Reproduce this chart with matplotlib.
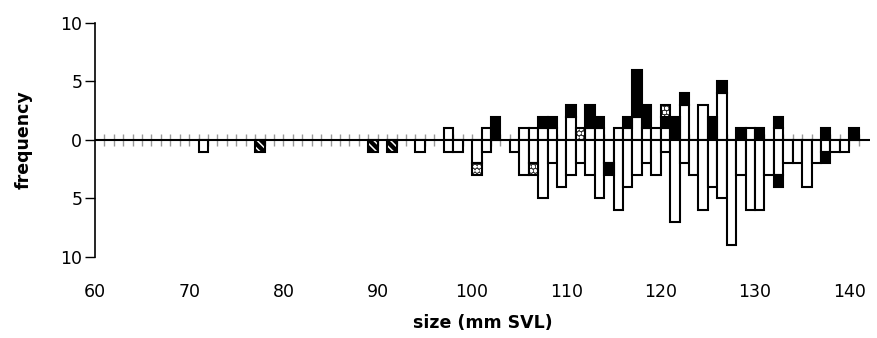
import numpy as np
import matplotlib
matplotlib.use('Agg')
import matplotlib.pyplot as plt

plt.rcParams['font.family'] = ['DejaVu Sans']
plt.rcParams['hatch.linewidth'] = 1.1

# size classes (mm SVL) and counts
up_white_size = [97, 101, 105, 106, 107, 108, 110, 112, 113, 115, 116, 117, 118, 119, 120, 122, 124, 126, 129, 132]
up_white_n = [1, 1, 1, 1, 1, 1, 2, 1, 1, 1, 1, 2, 1, 1, 1, 3, 3, 4, 1, 1]
up_black_size = [102, 107, 108, 110, 112, 113, 116, 117, 118, 120, 121, 122, 125, 126, 128, 130, 132, 137, 140]
up_black_n = [2, 1, 1, 1, 2, 1, 1, 4, 2, 1, 2, 1, 2, 1, 1, 1, 1, 1, 1]
up_dot_size = [111, 120]
up_dot_n = [1, 1]

down_white_size = [71, 94, 97, 98, 100, 101, 104, 105, 106, 107, 108, 109, 110, 111, 112, 113, 114, 115, 116, 117,
                   118, 119, 120, 121, 122, 123, 124, 125, 126, 127, 128, 129, 130, 131, 132, 133, 134, 135, 136,
                   137, 138, 139]
down_white_n = [1, 1, 1, 1, 2, 1, 1, 3, 2, 5, 2, 4, 3, 2, 3, 5, 2, 6, 4, 3,
                2, 3, 1, 7, 2, 3, 6, 4, 5, 9, 3, 6, 6, 3, 3, 2, 2, 4, 2,
                1, 1, 1]
down_black_size = [114, 132, 137]
down_black_n = [1, 1, 1]
down_dot_size = [100, 106]
down_dot_n = [1, 1]
down_hatch_size = [77, 89, 91]
down_hatch_n = [1, 1, 1]

sizes = np.arange(60, 142)


def full(sz, n):
    arr = np.zeros(len(sizes))
    for s, c in zip(sz, n):
        arr[s - 60] = c
    return arr


fig = plt.figure(figsize=(8.78, 3.38), dpi=100)
ax = fig.add_axes([0.108, 0.240, 0.883, 0.692])

lw = 1.5


def draw(heights, bottoms, face, hatch=None):
    m = heights != 0
    if hatch:
        # white hatch on a dark fill, then the black outline on top
        ax.bar(sizes[m], heights[m], bottom=bottoms[m], width=1, align='edge',
               color=face, edgecolor='white', linewidth=0, hatch=hatch, zorder=3)
        ax.bar(sizes[m], heights[m], bottom=bottoms[m], width=1, align='edge',
               fill=False, edgecolor='black', linewidth=lw, zorder=4)
    else:
        ax.bar(sizes[m], heights[m], bottom=bottoms[m], width=1, align='edge',
               color=face, edgecolor='black', linewidth=lw, zorder=3)


uw = full(up_white_size, up_white_n)
ub = full(up_black_size, up_black_n)
ud = full(up_dot_size, up_dot_n)
draw(uw, np.zeros(len(sizes)), 'white')
draw(ub, uw, 'black')
draw(ud, uw + ub, '0.2', 'oooo')

dw = full(down_white_size, down_white_n)
db = full(down_black_size, down_black_n)
dd = full(down_dot_size, down_dot_n)
dh = full(down_hatch_size, down_hatch_n)
draw(-dw, np.zeros(len(sizes)), 'white')
draw(-db, -dw, 'black')
draw(-dd, -dw, '0.2', 'oooo')
draw(-dh, -dw, 'black', '\\\\\\\\')

# zero line with small ticks at every size class
ax.axhline(0, color='black', linewidth=1.5, zorder=2)
ax.vlines(np.arange(61, 142), -0.5, 0.5, color='0.6', linewidth=1, zorder=1)

ax.set_xlim(60, 142.2)
ax.set_ylim(-10, 10)
ax.set_yticks([10, 5, 0, -5, -10])
ax.set_yticklabels(['10', '5', '0', '5', '10'])
ax.set_xticks(np.arange(60, 141, 10))
ax.tick_params(axis='x', length=0, pad=19, labelsize=12.5)
ax.tick_params(axis='y', length=7, width=1, pad=2, labelsize=12.5)

for s in ['top', 'right', 'bottom']:
    ax.spines[s].set_visible(False)
ax.spines['left'].set_linewidth(1.2)

ax.set_xlabel('size (mm SVL)', fontsize=12.5, fontweight='bold', labelpad=9)
ax.set_ylabel('frequency', fontsize=12.5, fontweight='bold')
ax.yaxis.set_label_coords(-0.08, 0.5)

fig.savefig('out.png', dpi=100)
